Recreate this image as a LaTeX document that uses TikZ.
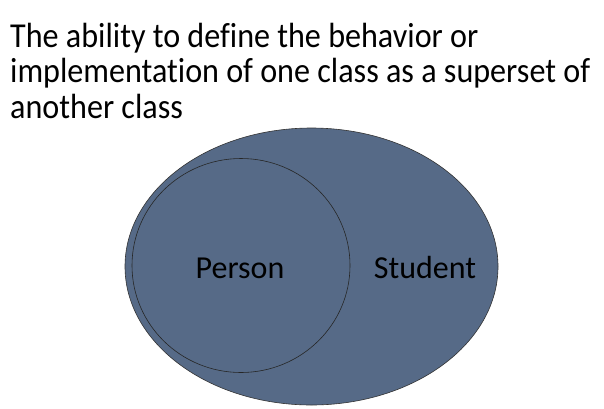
\documentclass[tikz,border=0pt]{standalone}
\usepackage{fontspec}
\setmainfont{Carlito}[Ligatures=NoCommon]
\definecolor{setblue}{RGB}{86,106,135}
\newsavebox{\linebox}
\begin{document}
\sbox{\linebox}{\fontsize{35}{35}\selectfont implementation of one class as a superset of}%
\pgfmathsetmacro{\tsx}{580/\wd\linebox}%
\begin{tikzpicture}[x=1pt,y=-1pt,
  titleline/.style={anchor=base west,inner sep=0pt,font=\fontsize{35}{35}\selectfont},
  setlabel/.style={inner sep=0pt,font=\fontsize{32}{32}\selectfont},
  setshape/.style={fill=setblue,draw=black!80,line width=0.6pt}]
\useasboundingbox (0,0) rectangle (604,408);
\node[titleline,xscale=\tsx] (t1) at (10,47) {The ability to define the behavior or};
\node[titleline,xscale=\tsx] (t2) at (10,82.5) {implementation of one class as a superset of};
\node[titleline,xscale=\tsx] (t3) at (10,118) {another class};
\draw[setshape] (311.5,266.5) ellipse [x radius=186.5,y radius=138.5];
\draw[setshape,fill=none,draw=black!85] (241,265.5) ellipse [x radius=109,y radius=107];
\node[setlabel] (person) at (240,268) {Person};
\node[setlabel] (student) at (425,267) {Student};
\end{tikzpicture}
\end{document}
